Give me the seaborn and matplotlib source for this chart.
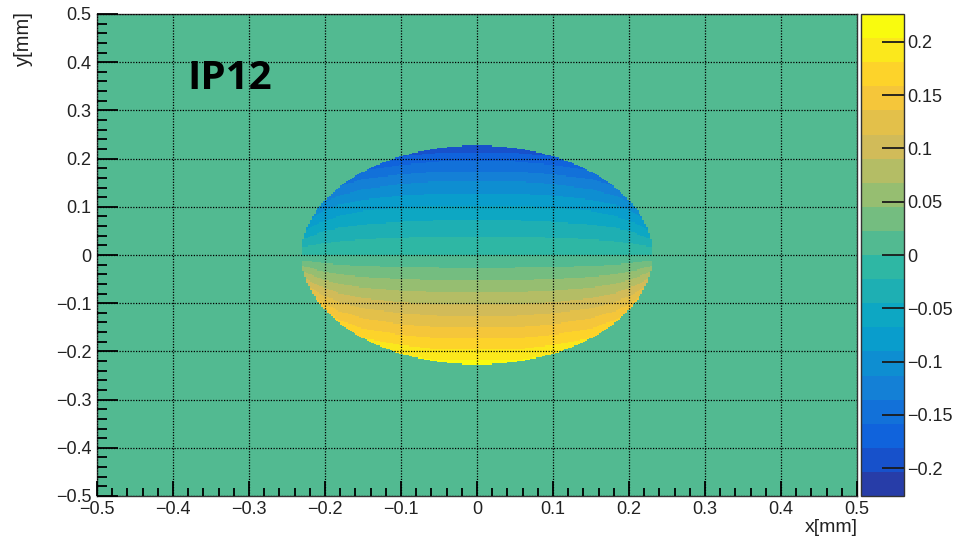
import numpy as np
import matplotlib
matplotlib.use("Agg")
import matplotlib.pyplot as plt
import seaborn as sns
from matplotlib.colors import LinearSegmentedColormap, ListedColormap

# Measured quantity along the centre column (x = 0) as a function of y [mm]
profile_y = [-0.23, -0.20, -0.15, -0.10, -0.05, 0.00, 0.05, 0.10, 0.15, 0.20, 0.23]
profile_val = [0.215, 0.185, 0.135, 0.088, 0.043, 0.000, -0.030, -0.065, -0.110, -0.165, -0.205]

# Relative strength of the effect versus |x| [mm] across the aperture
gain_x = [0.00, 0.05, 0.10, 0.15, 0.18, 0.20, 0.215, 0.23]
gain_val = [1.00, 1.00, 1.05, 1.15, 1.30, 1.50, 1.80, 2.30]

# Beam aperture (semi-axes in mm) and its flat side cut
APERTURE_A = 0.231
APERTURE_B = 0.227
X_CLIP = 0.229

# Colour scale
Z_MIN, Z_MAX = -0.226, 0.226
N_LEVELS = 20
BIN = 0.0025

x_ticks = [-0.5, -0.4, -0.3, -0.2, -0.1, 0.0, 0.1, 0.2, 0.3, 0.4, 0.5]
y_ticks = [-0.5, -0.4, -0.3, -0.2, -0.1, 0.0, 0.1, 0.2, 0.3, 0.4, 0.5]
z_ticks = [-0.2, -0.15, -0.1, -0.05, 0.0, 0.05, 0.1, 0.15, 0.2]
title_text = "IP12"

LABEL_SIZE = 13
TITLE_SIZE = 14.5
TEXT_COLOR = "#222222"


def fmt(v):
    s = f"{round(v, 4):g}"
    if s == "-0":
        s = "0"
    return s.replace("-", "\u2212")


plt.rcParams["font.family"] = ["Liberation Sans", "DejaVu Sans"]

# ROOT "bird" palette, sampled into discrete contour levels
bird_stops = [0.0, 0.125, 0.25, 0.375, 0.5, 0.625, 0.75, 0.875, 1.0]
bird_r = [0.2082, 0.0592, 0.0780, 0.0232, 0.1802, 0.5301, 0.8186, 0.9956, 0.9764]
bird_g = [0.1664, 0.3599, 0.5041, 0.6419, 0.7178, 0.7492, 0.7328, 0.7862, 0.9832]
bird_b = [0.5293, 0.8684, 0.8385, 0.7914, 0.6425, 0.4662, 0.3499, 0.1968, 0.0539]
bird = LinearSegmentedColormap.from_list(
    "bird", list(zip(bird_stops, zip(bird_r, bird_g, bird_b))), N=255)
level_colors = [bird(int((i + 0.99) * 255 / N_LEVELS) / 254.0) for i in range(N_LEVELS)]
cmap = ListedColormap(level_colors)

# 2D histogram grid, first row = top of the plot
edges = np.arange(-0.5, 0.5 + BIN / 2, BIN)
centers = edges[:-1] + BIN / 2
X, Y = np.meshgrid(centers, centers[::-1])
inside = ((X / APERTURE_A) ** 2 + (Y / APERTURE_B) ** 2 <= 1.0) & (np.abs(X) <= X_CLIP)
field = np.interp(Y, profile_y, profile_val) * np.interp(np.abs(X), gain_x, gain_val)
Z = np.where(inside, np.clip(field, Z_MIN + 1e-6, Z_MAX - 1e-6), 0.0)

fig = plt.figure(figsize=(9.55, 5.40), dpi=100)
ax = fig.add_axes([97 / 955, 1 - 496 / 540, 760 / 955, 482 / 540])
cax = fig.add_axes([861 / 955, 1 - 496 / 540, 43 / 955, 482 / 540])

sns.heatmap(Z, ax=ax, cbar_ax=cax, cmap=cmap, vmin=Z_MIN, vmax=Z_MAX,
            xticklabels=False, yticklabels=False)


def xpos(v):
    return (v + 0.5) / BIN


def ypos(v):
    return (0.5 - v) / BIN


ax.set_xlim(0, len(centers))
ax.set_ylim(len(centers), 0)
ax.set_xticks([xpos(v) for v in x_ticks])
ax.set_xticklabels([fmt(v) for v in x_ticks])
ax.set_yticks([ypos(v) for v in y_ticks])
ax.set_yticklabels([fmt(v) for v in y_ticks])
minor = [round(-0.5 + 0.02 * k, 3) for k in range(51)]
minor = [m for m in minor if abs(m * 10 - round(m * 10)) > 1e-6]
ax.set_xticks([xpos(v) for v in minor], minor=True)
ax.set_yticks([ypos(v) for v in minor], minor=True)

ax.tick_params(which="both", direction="in", bottom=True, left=True,
               top=False, right=False, color="black", width=1.3,
               labelsize=LABEL_SIZE, labelcolor=TEXT_COLOR)
ax.tick_params(axis="x", which="major", length=11, pad=3.5)
ax.tick_params(axis="x", which="minor", length=5.5)
ax.tick_params(axis="y", which="major", length=15, pad=4)
ax.tick_params(axis="y", which="minor", length=7)
for lab in ax.get_yticklabels():
    lab.set_rotation(0)
for lab in ax.get_xticklabels():
    lab.set_rotation(0)

ax.grid(True, which="major", color="black", linestyle=(0, (1, 1.2)), linewidth=0.9)
ax.set_axisbelow(False)
for s in ax.spines.values():
    s.set_visible(True)
    s.set_color("#333333")
    s.set_linewidth(1.0)
ax.set_xlabel("")
ax.set_ylabel("")

cbar = ax.collections[0].colorbar
cbar.set_ticks(z_ticks)
cbar.set_ticklabels([fmt(v) for v in z_ticks])
cbar.outline.set_visible(True)
cbar.outline.set_linewidth(1.0)
cbar.outline.set_edgecolor("#333333")
cax.tick_params(axis="y", which="major", direction="in", length=16, width=1.3,
                pad=2, right=True, left=False, labelright=True, labelleft=False,
                labelsize=LABEL_SIZE, labelcolor=TEXT_COLOR, color="#1a1a1a")
cax.tick_params(axis="y", which="minor", length=0)

fig.text(187 / 955, 1 - 89 / 540, title_text, ha="left", va="baseline",
         fontsize=29, fontweight="bold", family=["Open Sans", "DejaVu Sans"],
         color="black")
fig.text(23 / 955, 1 - 11 / 540, "y[mm]", rotation=90, ha="center", va="top",
         fontsize=TITLE_SIZE, color=TEXT_COLOR)
fig.text(858 / 955, 1 - 519 / 540, "x[mm]", ha="right", va="top",
         fontsize=TITLE_SIZE - 0.5, color=TEXT_COLOR)

fig.savefig("out.png", dpi=100)
